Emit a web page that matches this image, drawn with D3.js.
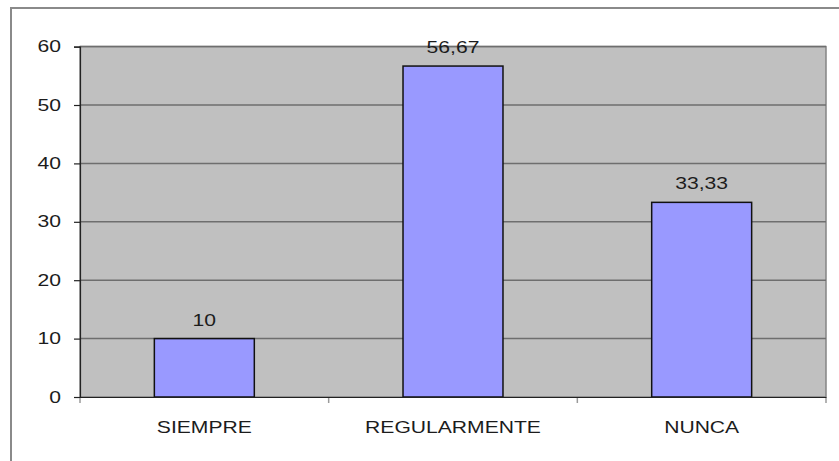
<!DOCTYPE html>
<html>
<head>
<meta charset="utf-8">
<script src="https://cdn.jsdelivr.net/npm/d3@7"></script>
<style>
  html, body { margin: 0; padding: 0; background: #fff; }
  svg { display: block; }
  text { font-family: "Liberation Sans", Arial, sans-serif; font-size: 16px; fill: #1c1c1c; }
</style>
</head>
<body>
<svg id="chart" width="839" height="461"></svg>
<script>
// answers per category (percent)
var categories = ["SIEMPRE", "REGULARMENTE", "NUNCA"];
var values = [10, 56.67, 33.33];
var yTicks = [0, 10, 20, 30, 40, 50, 60];

var svg = d3.select("#chart");
var plot = {left: 80, right: 826, top: 46.6, bottom: 397};
var stretch = 1.32; // labels are drawn a bit wide

// outer frame
svg.append("rect")
  .attr("x", 11).attr("y", 8)
  .attr("width", 900).attr("height", 500)
  .attr("fill", "none")
  .attr("stroke", "#8a8a8a")
  .attr("stroke-width", 2);

var x = d3.scaleBand()
  .domain(categories)
  .range([plot.left, plot.right])
  .padding(0);

var y = d3.scaleLinear()
  .domain([0, 60])
  .range([plot.bottom, plot.top]);

// plot background
svg.append("rect")
  .attr("x", plot.left).attr("y", y(60))
  .attr("width", plot.right - plot.left)
  .attr("height", y(0) - y(60))
  .attr("fill", "#c0c0c0")
  .attr("stroke", "#858585")
  .attr("stroke-width", 1.5);

// gridlines
svg.append("g").selectAll("line")
  .data(yTicks.filter(function(d) { return d > 0; }))
  .enter().append("line")
  .attr("x1", plot.left).attr("x2", plot.right)
  .attr("y1", function(d) { return y(d); })
  .attr("y2", function(d) { return y(d); })
  .attr("stroke", "#6e6e6e")
  .attr("stroke-width", 1.5);

// bars
var barW = x.bandwidth() * 0.402;
svg.append("g").selectAll("rect")
  .data(values)
  .enter().append("rect")
  .attr("x", function(d, i) { return x(categories[i]) + x.bandwidth() / 2 - barW / 2; })
  .attr("y", function(d) { return y(d); })
  .attr("width", barW)
  .attr("height", function(d) { return y(0) - y(d); })
  .attr("fill", "#9999ff")
  .attr("stroke", "#111")
  .attr("stroke-width", 1.5);

// value labels
svg.append("g").selectAll("text")
  .data(values)
  .enter().append("text")
  .attr("text-anchor", "middle")
  .attr("transform", function(d, i) {
    return "translate(" + (x(categories[i]) + x.bandwidth() / 2) + "," + (y(d) - 13) + ") scale(" + stretch + ",1)";
  })
  .text(function(d) { return String(d).replace(".", ","); });

// y axis
var yAxis = d3.axisLeft(y)
  .tickValues(yTicks)
  .tickSize(6)
  .tickPadding(13)
  .tickFormat(d3.format("d"));
var gy = svg.append("g")
  .attr("transform", "translate(" + plot.left + ",0)")
  .call(yAxis);
gy.select(".domain").attr("stroke", "#222").attr("stroke-width", 1.2);
gy.selectAll(".tick line").attr("stroke", "#222").attr("stroke-width", 1.2);
gy.selectAll(".tick text")
  .attr("font-size", null).attr("font-family", null)
  .style("fill", "#1c1c1c")
  .attr("transform", "scale(" + stretch + ",1)")
  .attr("x", -19 / stretch);

// x axis
var xAxis = d3.axisBottom(x).tickSize(0).tickPadding(25);
var gx = svg.append("g")
  .attr("transform", "translate(0," + plot.bottom + ")")
  .call(xAxis);
gx.select(".domain").attr("stroke", "#222").attr("stroke-width", 1.2);
gx.selectAll(".tick text")
  .attr("font-size", null).attr("font-family", null)
  .style("fill", "#1c1c1c")
  .attr("transform", "scale(" + stretch + ",1)");
// tick marks between categories
gx.selectAll(".sep")
  .data(categories.concat([null]))
  .enter().append("line")
  .attr("class", "sep")
  .attr("x1", function(d, i) { return plot.left + i * x.step(); })
  .attr("x2", function(d, i) { return plot.left + i * x.step(); })
  .attr("y1", 1).attr("y2", 6)
  .attr("stroke", "#9a9a9a").attr("stroke-width", 1.5);
</script>
</body>
</html>
